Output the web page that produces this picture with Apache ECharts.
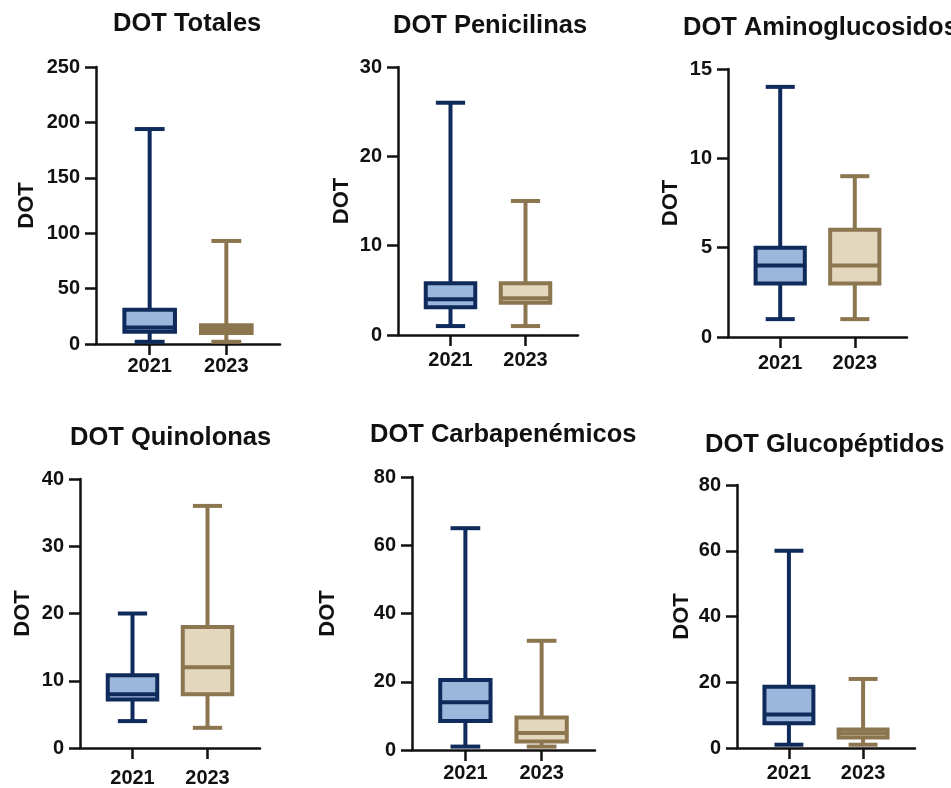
<!DOCTYPE html>
<html lang="es">

<head>
    <meta charset="UTF-8">
    <title>DOT 2021 vs 2023</title>
    <script src="https://cdn.jsdelivr.net/npm/echarts@6/dist/echarts.min.js"></script>
    <style>
        html, body { margin: 0; padding: 0; background: #fff; }
        #main { width: 951px; height: 788px; }
    </style>
</head>

<body>
    <div id="main"></div>
    <script>
        // years on the x axis
        var years = ['2021', '2023'];
        var titles = ['DOT Totales', 'DOT Penicilinas', 'DOT Aminoglucosidos',
            'DOT Quinolonas', 'DOT Carbapenémicos', 'DOT Glucopéptidos'];
        var yMax = [250, 30, 15, 40, 80, 80];
        var yStep = [50, 10, 5, 10, 20, 20];

        // each row: [min, Q1, median, Q3, max] for 2021 then 2023
        var totales = [[2, 11, 15, 31, 194], [2, 10, 13.5, 17, 93]];
        var penicilinas = [[1, 3.1, 4, 5.8, 26], [1, 3.6, 4.1, 5.8, 15]];
        var aminoglucosidos = [[1, 3, 4, 5, 14], [1, 3, 4, 6, 9]];
        var quinolonas = [[4, 7.2, 8, 10.8, 20], [3, 8, 12, 18, 36]];
        var carbapenemicos = [[1, 8.5, 14, 20.5, 65], [1, 2.5, 5, 9.5, 32]];
        var glucopeptidos = [[1, 7.5, 10.2, 18.6, 60], [1, 3.2, 4.5, 5.6, 21]];

        var panels = [totales, penicilinas, aminoglucosidos, quinolonas, carbapenemicos, glucopeptidos];

        // layout of each small chart
        var grids = [
            { left: 96, top: 67, width: 184, height: 277 },
            { left: 398, top: 67, width: 180, height: 268 },
            { left: 728, top: 69, width: 179, height: 268 },
            { left: 80, top: 479, width: 180, height: 269 },
            { left: 412, top: 477, width: 183, height: 273 },
            { left: 737, top: 485, width: 178, height: 263 }
        ];
        var titlePos = [[113, 11], [393, 13], [683, 15], [70, 425], [370, 422], [705, 432]];
        var nameGaps = [58, 45, 46, 46, 73, 44];
        var xLabelMargins = [12, 15, 16, 20, 13, 15];

        var colors = [
            { line: '#0f2b5b', fill: '#9db6dc' },
            { line: '#8c7650', fill: '#e3d7be' }
        ];
        var FONT = 'Liberation Sans';
        var AXIS = '#111';

        function renderBox(params, api) {
            var i = api.value(0);
            var xc = api.coord([i, 0])[0];
            var y = function (d) { return api.coord([i, api.value(d)])[1]; };
            var unit = api.size([1, 0])[0];
            var bw = unit * 0.66;
            var cw = unit * 0.39;
            var c = colors[i];
            var lw = 4;
            var lineStyle = { stroke: c.line, lineWidth: lw, fill: null };
            return {
                type: 'group',
                children: [
                    { type: 'line', shape: { x1: xc, y1: y(1), x2: xc, y2: y(5) }, style: lineStyle },
                    { type: 'line', shape: { x1: xc - cw / 2, y1: y(1), x2: xc + cw / 2, y2: y(1) }, style: lineStyle },
                    { type: 'line', shape: { x1: xc - cw / 2, y1: y(5), x2: xc + cw / 2, y2: y(5) }, style: lineStyle },
                    {
                        type: 'rect',
                        shape: { x: xc - bw / 2, y: y(4), width: bw, height: y(2) - y(4) },
                        style: { fill: c.fill, stroke: c.line, lineWidth: lw }
                    },
                    { type: 'line', shape: { x1: xc - bw / 2, y1: y(3), x2: xc + bw / 2, y2: y(3) }, style: lineStyle }
                ]
            };
        }

        var title = [], grid = [], xAxis = [], yAxis = [], series = [];
        for (var k = 0; k < panels.length; k++) {
            title.push({
                text: titles[k],
                left: titlePos[k][0],
                top: titlePos[k][1],
                padding: 0,
                textStyle: { fontFamily: FONT, fontWeight: 'bold', fontSize: 25.5, color: AXIS }
            });
            grid.push(grids[k]);
            xAxis.push({
                type: 'value',
                gridIndex: k,
                min: -0.7,
                max: 1.7,
                axisLine: { show: true, onZero: false, lineStyle: { color: AXIS, width: 2.5 } },
                axisTick: { show: true, customValues: [0, 1], length: 11, lineStyle: { color: AXIS, width: 2.5 } },
                axisLabel: {
                    customValues: [0, 1],
                    formatter: function (v) { return years[Math.round(v)]; },
                    margin: xLabelMargins[k],
                    fontFamily: FONT, fontWeight: 'bold', fontSize: 20, color: AXIS
                },
                splitLine: { show: false }
            });
            yAxis.push({
                type: 'value',
                gridIndex: k,
                min: 0,
                max: yMax[k],
                interval: yStep[k],
                name: 'DOT',
                nameLocation: 'middle',
                nameRotate: 90,
                nameGap: nameGaps[k],
                nameTextStyle: { fontFamily: FONT, fontWeight: 'bold', fontSize: 22, color: AXIS },
                axisLine: { show: true, onZero: false, lineStyle: { color: AXIS, width: 2.5 } },
                axisTick: { show: true, length: 11, lineStyle: { color: AXIS, width: 2.5 } },
                axisLabel: { margin: 16, fontFamily: FONT, fontWeight: 'bold', fontSize: 20, color: AXIS },
                splitLine: { show: false }
            });
            var rows = panels[k].map(function (r, i) { return [i].concat(r); });
            series.push({
                type: 'custom',
                xAxisIndex: k,
                yAxisIndex: k,
                renderItem: renderBox,
                encode: { x: 0, y: [1, 2, 3, 4, 5] },
                clip: false,
                data: rows
            });
        }

        var chart = echarts.init(document.getElementById('main'));
        chart.setOption({
            animation: false,
            backgroundColor: '#fff',
            title: title,
            grid: grid,
            xAxis: xAxis,
            yAxis: yAxis,
            series: series
        });
    </script>
</body>

</html>
